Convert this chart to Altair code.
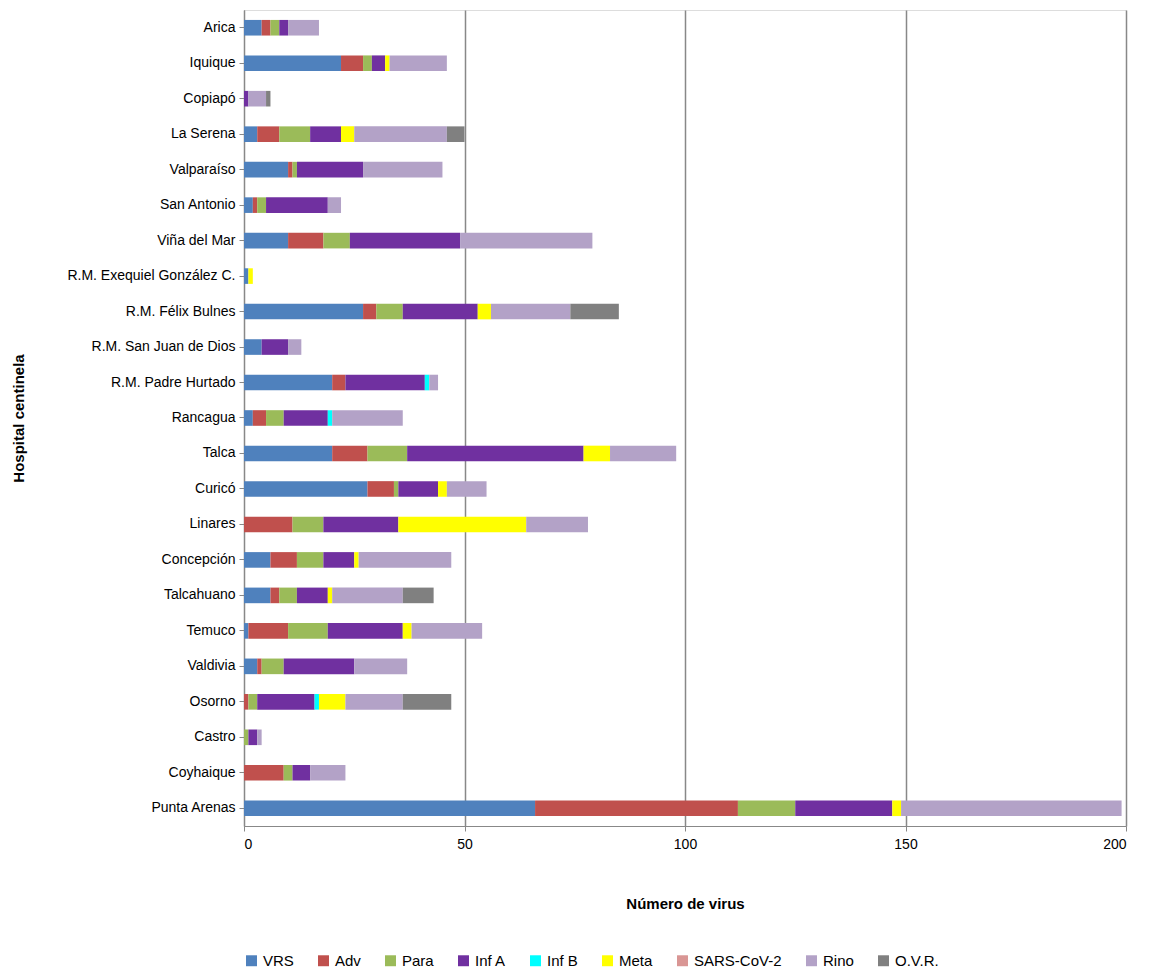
import altair as alt
import pandas as pd

hospitals = ["Arica","Iquique","Copiapó","La Serena","Valparaíso","San Antonio","Viña del Mar",
 "R.M. Exequiel González C.","R.M. Félix Bulnes","R.M. San Juan de Dios","R.M. Padre Hurtado",
 "Rancagua","Talca","Curicó","Linares","Concepción","Talcahuano","Temuco","Valdivia","Osorno",
 "Castro","Coyhaique","Punta Arenas"]
series = ["VRS","Adv","Para","Inf A","Inf B","Meta","SARS-CoV-2","Rino","O.V.R."]
colors = ["#4F81BD","#C0504D","#9BBB59","#7030A0","#00FFFF","#FFFF00","#D99694","#B3A2C7","#808080"]

VRS  = [4,22,0,3,10,2,10,1,27,4,20,2,20,28,0,6,6,1,3,0,0,0,66]
Adv  = [2,5,0,5,1,1,8,0,3,0,3,3,8,6,11,6,2,9,1,1,0,9,46]
Para = [2,2,0,7,1,2,6,0,6,0,0,4,9,1,7,6,4,9,5,2,1,2,13]
InfA = [2,3,1,7,15,14,25,0,17,6,18,10,40,9,17,7,7,17,16,13,2,4,22]
InfB = [0,0,0,0,0,0,0,0,0,0,1,1,0,0,0,0,0,0,0,1,0,0,0]
Meta = [0,1,0,3,0,0,0,1,3,0,0,0,6,2,29,1,1,2,0,6,0,0,2]
SARS = [0]*23
Rino = [7,13,4,21,18,3,30,0,18,3,2,16,15,9,14,21,16,16,12,13,1,8,50]
OVR  = [0,0,1,4,0,0,0,0,11,0,0,0,0,0,0,0,7,0,0,11,0,0,0]

vals = [VRS,Adv,Para,InfA,InfB,Meta,SARS,Rino,OVR]
rows = []
for si,(s,v) in enumerate(zip(series,vals)):
    for h,x in zip(hospitals,v):
        rows.append({"Hospital":h,"Virus":s,"n":x,"ord":si})
df = pd.DataFrame(rows)

font = "Liberation Sans"
chart = alt.Chart(df).mark_bar().encode(
    y=alt.Y("Hospital:N", sort=hospitals, title="Hospital centinela",
            scale=alt.Scale(paddingInner=0.56, paddingOuter=0.28),
            axis=alt.Axis(labelFontSize=14, titleFontSize=15, titleFontWeight="bold",
                          labelColor="black", titleColor="black", domainColor="#888",
                          tickColor="#888", titlePadding=40, labelPadding=4, ticks=True, tickSize=5)),
    x=alt.X("n:Q", title="Número de virus", scale=alt.Scale(domain=[0,200]),
            axis=alt.Axis(values=[0,50,100,150,200], labelFontSize=14, titleFontSize=15,
                          titleFontWeight="bold", labelColor="black", titleColor="black",
                          grid=True, gridColor="#888", gridWidth=1.5, domainColor="#888",
                          tickColor="#888", titlePadding=45, labelPadding=6)),
    color=alt.Color("Virus:N", sort=series, scale=alt.Scale(domain=series, range=colors),
                    legend=alt.Legend(orient="bottom", title=None, direction="horizontal",
                                      symbolType="square", symbolSize=120, labelFontSize=15,
                                      labelColor="black", columnPadding=22, offset=42)),
    order=alt.Order("ord:Q"),
).properties(width=882, height=816,
             padding={"left": 3, "top": 2, "right": 5, "bottom": 5}
).configure_view(stroke="#ccc").configure(font=font)

chart.save("out.html", embed_options={"renderer": "svg", "actions": False})
